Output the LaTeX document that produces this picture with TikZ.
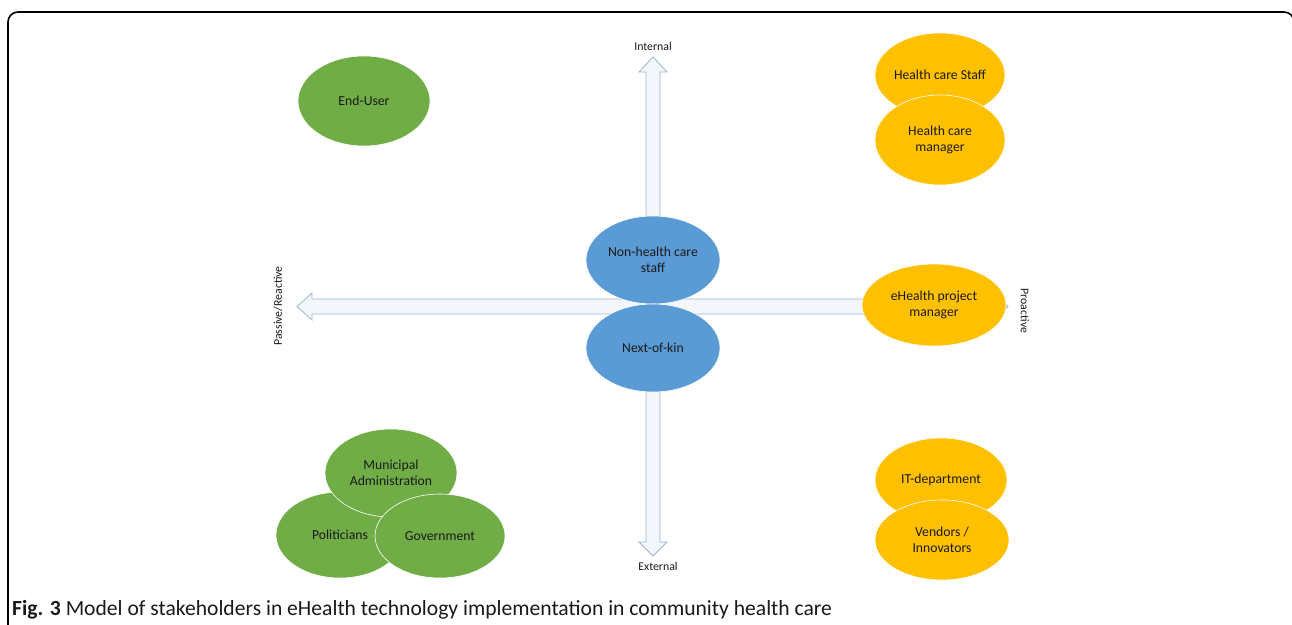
\documentclass[tikz,border=0pt]{standalone}
\usepackage{fontspec}
\setmainfont{Carlito}
\usetikzlibrary{shapes.geometric}
\definecolor{egreen}{HTML}{70AD47}
\definecolor{eblue}{HTML}{5B9BD5}
\definecolor{eorange}{HTML}{FFC000}
\definecolor{arrline}{HTML}{9DB5D3}
\definecolor{arrfill}{HTML}{F3F6FA}
\definecolor{etext}{HTML}{1A1A1A}
\tikzset{
  blob/.style={ellipse, draw=white, line width=0.6pt, text=etext, align=center,
    font=\fontsize{13.7}{16.5}\selectfont, inner sep=0pt},
  gblob/.style={blob, fill=egreen},
  bblob/.style={blob, fill=eblue},
  oblob/.style={blob, fill=eorange},
  axlabel/.style={text=etext, font=\fontsize{11.8}{13}\selectfont, inner sep=0pt},
  bigarrow/.style={draw=arrline, fill=arrfill, line width=0.8pt, line join=miter},
}
\begin{document}
\begin{tikzpicture}[x=1pt,y=-1pt]
\useasboundingbox (0,0) rectangle (1292,624);
\fill[white] (0,0) rectangle (1292,624);
\begin{scope}
\clip (0,0) rectangle (1292,624);
\draw[line width=1.6pt, rounded corners=10pt] (8,640) -- (8,12) -- (1294,12) -- (1294,640);
\end{scope}
% axes
\draw[bigarrow] (653,57) -- (667,72) -- (660,72) -- (660,542) -- (667,542) -- (653,556)
  -- (639,542) -- (646,542) -- (646,72) -- (639,72) -- cycle;
\draw[bigarrow] (297,306.5) -- (312,293) -- (312,299) -- (994,299) -- (994,293) -- (1008,306.5)
  -- (994,320) -- (994,314) -- (312,314) -- (312,320) -- cycle;
\node[axlabel] (internal) at (653,46) {Internal};
\node[axlabel] (external) at (658,566) {External};
\node[axlabel, rotate=90] (passive) at (278,306) {Passive/Reactive};
\node[axlabel, rotate=-90] (proactive) at (1025,311) {Proactive};
% ellipses
\node[gblob, minimum width=132pt, minimum height=90pt] (enduser) at (364,101) {End-User};
\node[oblob, minimum width=130pt, minimum height=84pt] (hcstaff) at (940,75) {Health care Staff};
\node[oblob, minimum width=130pt, minimum height=90pt] (hcman) at (940,140) {Health care\\manager};
\node[bblob, minimum width=134pt, minimum height=88pt] (nonhc) at (653,260) {Non-health care\\staff};
\node[bblob, minimum width=134pt, minimum height=88pt] (nok) at (653,348) {Next-of-kin};
\node[oblob, minimum width=144pt, minimum height=82pt] (ehpm) at (934,305) {eHealth project\\manager};
\node[gblob, minimum width=128pt, minimum height=86pt] (pol) at (340,535) {Politicians};
\node[gblob, minimum width=132pt, minimum height=88pt] (muni) at (391,473) {Municipal\\Administration};
\node[gblob, minimum width=130pt, minimum height=84pt] (gov) at (440,536) {Government};
\node[oblob, minimum width=132pt, minimum height=84pt] (itdep) at (941,480) {IT-department};
\node[oblob, minimum width=134pt, minimum height=80pt] (vendors) at (942,540) {Vendors /\\Innovators};
% caption
\node[anchor=base west, inner sep=0pt, text=etext, font=\fontsize{21.6}{24}\selectfont] (caption) at (12,615)
  {\textbf{Fig. 3} Model of stakeholders in eHealth technology implementation in community health care};
\end{tikzpicture}
\end{document}
